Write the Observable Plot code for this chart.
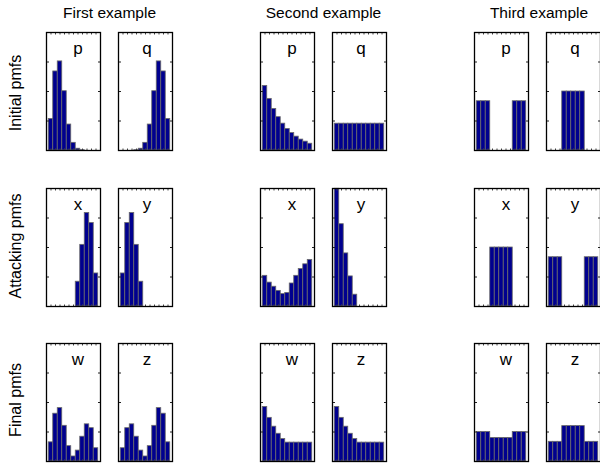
<!DOCTYPE html>
<html><head><meta charset="utf-8">
<script src="https://cdn.jsdelivr.net/npm/d3@7"></script>
<script src="https://cdn.jsdelivr.net/npm/@observablehq/plot@0.6"></script>
<style>
body{margin:0;background:#fff;overflow:hidden}
#root{position:relative;width:600px;height:463px;overflow:hidden;font-family:"Liberation Sans",Arial,Helvetica,sans-serif}
.panel{position:absolute;width:60px;height:124px}
.panel svg{display:block}
#labels{position:absolute;left:0;top:0}
</style></head><body><div id="root"></div>
<script>
// ---- data ----
const examples = ["First example", "Second example", "Third example"];
const stages = ["Initial pmfs", "Attacking pmfs", "Final pmfs"];
const panelNames = [["p", "q"], ["x", "y"], ["w", "z"]];
const bins = [1, 2, 3, 4, 5, 6, 7, 8, 9, 10, 11];
const yTicks = [0.1, 0.2, 0.3];

// First example
const ex1_p = [0.107, 0.268, 0.302, 0.201, 0.088, 0.026, 0.006, 0.001, 0, 0, 0];
const ex1_q = [0, 0, 0, 0.001, 0.006, 0.026, 0.088, 0.201, 0.302, 0.268, 0.107];
const ex1_x = [0, 0, 0, 0, 0, 0, 0.084, 0.209, 0.317, 0.283, 0.112];
const ex1_y = [0.112, 0.283, 0.317, 0.209, 0.084, 0, 0, 0, 0, 0, 0];
const ex1_w = [0.065, 0.162, 0.181, 0.121, 0.052, 0.017, 0.037, 0.084, 0.126, 0.113, 0.045];
const ex1_z = [0.045, 0.113, 0.126, 0.084, 0.037, 0.017, 0.052, 0.121, 0.181, 0.162, 0.065];
// Second example
const ex2_p = [0.219, 0.175, 0.141, 0.113, 0.091, 0.073, 0.059, 0.047, 0.037, 0.030, 0.023];
const ex2_q = [0.0909, 0.0909, 0.0909, 0.0909, 0.0909, 0.0909, 0.0909, 0.0909, 0.0909, 0.0909, 0.0909];
const ex2_x = [0.104, 0.081, 0.067, 0.053, 0.042, 0.046, 0.078, 0.104, 0.127, 0.143, 0.158];
const ex2_y = [0.399, 0.279, 0.180, 0.102, 0.040, 0, 0, 0, 0, 0, 0];
const ex2_w = [0.185, 0.148, 0.118, 0.094, 0.076, 0.064, 0.064, 0.064, 0.064, 0.064, 0.064];
const ex2_z = [0.185, 0.148, 0.118, 0.094, 0.076, 0.064, 0.064, 0.064, 0.064, 0.064, 0.064];
// Third example
const ex3_p = [0.167, 0.167, 0.167, 0, 0, 0, 0, 0, 0.167, 0.167, 0.167];
const ex3_q = [0, 0, 0, 0.2, 0.2, 0.2, 0.2, 0.2, 0, 0, 0];
const ex3_x = [0, 0, 0, 0.2, 0.2, 0.2, 0.2, 0.2, 0, 0, 0];
const ex3_y = [0.167, 0.167, 0.167, 0, 0, 0, 0, 0, 0.167, 0.167, 0.167];
const ex3_w = [0.1, 0.1, 0.1, 0.08, 0.08, 0.08, 0.08, 0.08, 0.1, 0.1, 0.1];
const ex3_z = [0.0667, 0.0667, 0.0667, 0.12, 0.12, 0.12, 0.12, 0.12, 0.0667, 0.0667, 0.0667];

// series[stage][example][side]
const series = [
  [[ex1_p, ex1_q], [ex2_p, ex2_q], [ex3_p, ex3_q]],
  [[ex1_x, ex1_y], [ex2_x, ex2_y], [ex3_x, ex3_y]],
  [[ex1_w, ex1_z], [ex2_w, ex2_z], [ex3_w, ex3_z]]
];

// ---- layout ----
const root = document.getElementById("root");
const FONT = "'Liberation Sans', Arial, Helvetica, sans-serif";
const panelW = 54, panelH = 118, m = 3;
const colLeft = [[46, 117.5], [260, 332], [474, 546]];
const rowTop = [32, 188, 343];
const letterDx = [4.5, 1.5];

for (let r = 0; r < 3; r++) {
  for (let e = 0; e < 3; e++) {
    for (let s = 0; s < 2; s++) {
      const vals = series[r][e][s];
      const rows = bins.map((b, i) => ({bin: b, value: vals[i]}));
      const chart = Plot.plot({
        width: panelW + 2 * m,
        height: panelH + 2 * m,
        marginTop: m, marginBottom: m, marginLeft: m, marginRight: m,
        x: {domain: [0, 12], axis: null},
        y: {domain: [0, 0.4], axis: null},
        style: {background: "transparent", overflow: "visible", fontFamily: FONT},
        marks: [
          Plot.rectY(rows, {x1: d => d.bin - 0.5, x2: d => d.bin + 0.5, y: "value",
            fill: "#00008f", stroke: "#6a6a6a", strokeWidth: 0.8}),
          Plot.axisY(yTicks, {anchor: "left", tickSize: -3, tickFormat: () => "", label: null, stroke: "#222"}),
          Plot.axisY(yTicks, {anchor: "right", tickSize: -3, tickFormat: () => "", label: null, stroke: "#222"}),
          Plot.axisX(bins, {anchor: "bottom", tickSize: -1.5, tickFormat: () => "", label: null, stroke: "#444"}),
          Plot.axisX(bins, {anchor: "top", tickSize: -1.5, tickFormat: () => "", label: null, stroke: "#444"}),
          Plot.frame({stroke: "black", strokeWidth: 1.3}),
          Plot.text([panelNames[r][s]], {frameAnchor: "top", dx: letterDx[s], dy: 21.5,
            lineAnchor: "bottom", text: d => d, fontSize: 17, fill: "black"})
        ]
      });
      const div = document.createElement("div");
      div.className = "panel";
      div.style.left = (colLeft[e][s] - m) + "px";
      div.style.top = (rowTop[r] - m) + "px";
      div.appendChild(chart);
      root.appendChild(div);
    }
  }
}

// ---- titles and row labels ----
const svg = d3.select(root).append("svg").attr("id", "labels")
  .attr("width", 600).attr("height", 463).style("font-family", FONT);
const titleX = [109.5, 323.5, 539];
svg.selectAll("text.title").data(examples).join("text")
  .attr("class", "title")
  .attr("x", (d, i) => titleX[i]).attr("y", 17.5)
  .attr("text-anchor", "middle").attr("font-size", 15.5).attr("fill", "black")
  .text(d => d);
const labelY = [93, 246, 400];
svg.selectAll("text.stage").data(stages).join("text")
  .attr("class", "stage")
  .attr("transform", (d, i) => `translate(21,${labelY[i]}) rotate(-90)`)
  .attr("text-anchor", "middle").attr("font-size", 16).attr("fill", "black")
  .text(d => d);
</script></body></html>
